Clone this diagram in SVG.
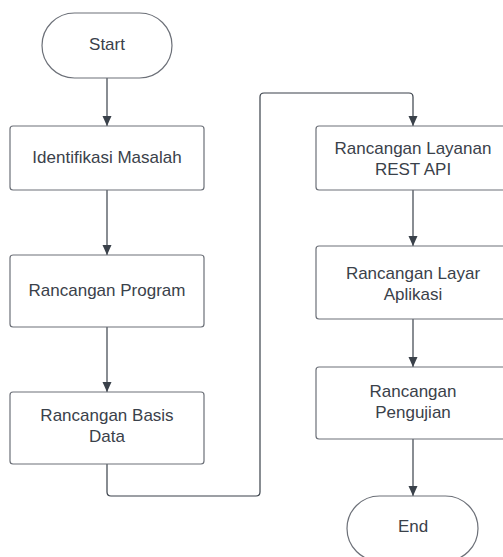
<svg xmlns="http://www.w3.org/2000/svg" width="503" height="557" viewBox="0 0 503 557">
<style>
.n{fill:#ffffff;stroke:#6c7078;stroke-width:1.2}
.t{font-family:"Liberation Sans",Arial,sans-serif;font-size:17px;fill:#3a414a;text-anchor:middle}
.c{fill:none;stroke:#3a414a;stroke-width:1.2}
</style>
<defs>
<marker id="ah" markerWidth="10" markerHeight="12" refX="10" refY="4.5" orient="auto" markerUnits="userSpaceOnUse" viewBox="0 0 10 9">
<path d="M0,0 L10,4.5 L0,9 Z" fill="#3a414a"/>
</marker>
</defs>
<rect width="503" height="557" fill="#ffffff"/>
<g id="connectors">
<path class="c" d="M107,78 V126" marker-end="url(#ah)"/>
<path class="c" d="M107,190 V255" marker-end="url(#ah)"/>
<path class="c" d="M107,327 V392" marker-end="url(#ah)"/>
<path class="c" d="M107,464 V492 Q107,496 111,496 H256 Q260,496 260,492 V97 Q260,93 264,93 H409 Q413,93 413,97 V126" marker-end="url(#ah)"/>
<path class="c" d="M413,190 V246" marker-end="url(#ah)"/>
<path class="c" d="M413,319 V367" marker-end="url(#ah)"/>
<path class="c" d="M413,439 V496" marker-end="url(#ah)"/>
</g>
<g id="start">
<rect class="n" x="42" y="13" width="130" height="65" rx="32.5" ry="32.5"/>
<text class="t" x="107" y="50">Start</text>
</g>
<g id="identifikasi">
<rect class="n" x="10" y="126" width="194" height="64" rx="3"/>
<text class="t" x="107" y="163">Identifikasi Masalah</text>
</g>
<g id="program">
<rect class="n" x="10" y="255" width="194" height="72" rx="3"/>
<text class="t" x="107" y="296">Rancangan Program</text>
</g>
<g id="basisdata">
<rect class="n" x="10" y="392" width="194" height="72" rx="3"/>
<text class="t" x="107" y="421">Rancangan Basis</text>
<text class="t" x="107" y="442">Data</text>
</g>
<g id="restapi">
<rect class="n" x="316" y="126" width="194" height="64" rx="3"/>
<text class="t" x="413" y="154">Rancangan Layanan</text>
<text class="t" x="413" y="175">REST API</text>
</g>
<g id="layar">
<rect class="n" x="316" y="246" width="194" height="73" rx="3"/>
<text class="t" x="413" y="279">Rancangan Layar</text>
<text class="t" x="413" y="300">Aplikasi</text>
</g>
<g id="pengujian">
<rect class="n" x="316" y="367" width="194" height="72" rx="3"/>
<text class="t" x="413" y="397">Rancangan</text>
<text class="t" x="413" y="418">Pengujian</text>
</g>
<g id="end">
<rect class="n" x="347" y="496" width="131" height="65" rx="32.5" ry="32.5"/>
<text class="t" x="413" y="532">End</text>
</g>
</svg>
